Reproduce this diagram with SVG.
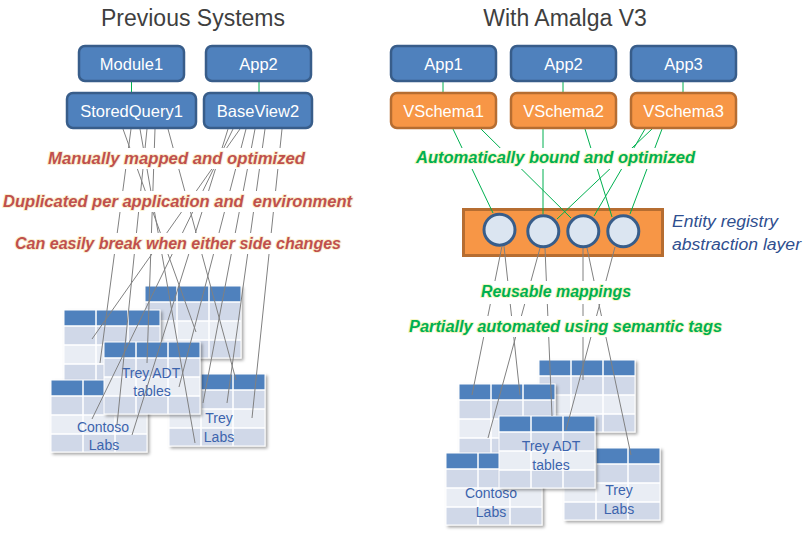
<svg xmlns="http://www.w3.org/2000/svg" xmlns:xlink="http://www.w3.org/1999/xlink" width="808" height="534" viewBox="0 0 808 534">
<style>
.title{font-family:"Liberation Sans",Arial,sans-serif;font-size:23px;fill:#3f3f3f;text-anchor:middle}
.nb rect{fill:#4f81bd;stroke:#385d8a;stroke-width:2.5}
.no rect{fill:#f79646;stroke:#b66d31;stroke-width:2.5}
.nt{font-family:"Liberation Sans",Arial,sans-serif;font-size:16.5px;fill:#fff;text-anchor:middle}
.gl{stroke:#00b050;stroke-width:1;fill:none}
.gy{stroke:#808080;stroke-width:1;fill:none}
.lbl{font-family:"Liberation Sans",Arial,sans-serif;font-size:16px;font-weight:bold;font-style:italic;white-space:pre;paint-order:stroke;stroke-width:2;stroke-linejoin:round}
.red{fill:#c0504d;stroke:#f6e3a8;stroke-opacity:.55}
.grn{fill:#00b050;stroke:#f0f0a0;stroke-opacity:.6}
.bg{fill:#fff}
.tt{font-family:"Liberation Sans",Arial,sans-serif;font-size:14px;fill:#3c64ad;text-anchor:middle}
.er{font-family:"Liberation Sans",Arial,sans-serif;font-size:16px;font-style:italic;fill:#2f4f8f}
</style>
<defs>
<filter id="sh" x="-10%" y="-10%" width="125%" height="130%">
<feDropShadow dx="2" dy="2" stdDeviation="1.5" flood-color="#000" flood-opacity="0.35"/>
</filter>
<g id="tbl">
<rect x="0" y="0" width="96" height="16" fill="#4f81bd"/>
<rect x="0" y="16" width="96" height="19" fill="#d0d8e8"/>
<rect x="0" y="35" width="96" height="19" fill="#e9edf4"/>
<rect x="0" y="54" width="96" height="18" fill="#d0d8e8"/>
<path d="M32 0V72M64 0V72M0 16H96M0 35H96M0 54H96" stroke="#fff" stroke-width="1.5" fill="none"/>
<rect x="0" y="0" width="96" height="72" fill="none" stroke="#fff" stroke-width="1"/>
</g>
</defs>
<rect width="808" height="534" fill="#fff"/>

<text class="title" x="193" y="26">Previous Systems</text>
<text class="title" x="565" y="26">With Amalga V3</text>

<!-- left tables -->
<g id="tables-left">
<g id="tbl-l2" transform="translate(145,286)"><use xlink:href="#tbl" filter="url(#sh)"/></g>
<g id="tbl-l1" transform="translate(64,310)"><use xlink:href="#tbl" filter="url(#sh)"/></g>
<g id="tbl-contoso-l" transform="translate(51,380)"><use xlink:href="#tbl" filter="url(#sh)"/><text class="tt" x="52" y="52">Contoso</text><text class="tt" x="53" y="70">Labs</text></g>
<g id="tbl-treylabs-l" transform="translate(169,374)"><use xlink:href="#tbl" filter="url(#sh)"/><text class="tt" x="50" y="49">Trey</text><text class="tt" x="50" y="68">Labs</text></g>
<g id="tbl-treyadt-l" transform="translate(104,342)"><use xlink:href="#tbl" filter="url(#sh)"/><text class="tt" x="47" y="36">Trey ADT</text><text class="tt" x="48" y="54">tables</text></g>
</g>

<!-- right tables -->
<g id="tables-right">
<g id="tbl-r1" transform="translate(539,360)"><use xlink:href="#tbl" filter="url(#sh)"/></g>
<g id="tbl-r2" transform="translate(459,384)"><use xlink:href="#tbl" filter="url(#sh)"/></g>
<g id="tbl-contoso-r" transform="translate(446,453)"><use xlink:href="#tbl" filter="url(#sh)"/><text class="tt" x="45" y="45">Contoso</text><text class="tt" x="45" y="64">Labs</text></g>
<g id="tbl-treylabs-r" transform="translate(564,448)"><use xlink:href="#tbl" filter="url(#sh)"/><text class="tt" x="55" y="47">Trey</text><text class="tt" x="55" y="66">Labs</text></g>
<g id="tbl-treyadt-r" transform="translate(499,416)"><use xlink:href="#tbl" filter="url(#sh)"/><text class="tt" x="52" y="35">Trey ADT</text><text class="tt" x="52" y="54">tables</text></g>
</g>

<!-- entity registry -->
<g id="entity-registry">
<rect x="463.5" y="209.5" width="199" height="46" fill="#f79646" stroke="#b66d31" stroke-width="3"/>
<g fill="#dbe5f1" stroke="#385d8a" stroke-width="3">
<circle cx="499.5" cy="229.7" r="15.5"/>
<circle cx="543.3" cy="231.3" r="15.5"/>
<circle cx="583.3" cy="231.3" r="15.5"/>
<circle cx="623.3" cy="231.3" r="15.5"/>
</g>
<text class="er" x="672" y="227" textLength="106" lengthAdjust="spacingAndGlyphs">Entity registry</text>
<text class="er" x="672" y="250" textLength="129" lengthAdjust="spacingAndGlyphs">abstraction layer</text>
</g>

<g id="connectors">
<line class="gl" x1="131.5" y1="81" x2="131.5" y2="93"/>
<line class="gl" x1="259" y1="81" x2="259" y2="93"/>
<line class="gl" x1="443" y1="81" x2="443" y2="93"/>
<line class="gl" x1="563" y1="81" x2="563" y2="93"/>
<line class="gl" x1="683" y1="81" x2="683" y2="93"/>
<line class="gl" x1="453" y1="129" x2="493" y2="213"/>
<line class="gl" x1="481" y1="129" x2="571" y2="218"/>
<line class="gl" x1="543" y1="129" x2="543" y2="214"/>
<line class="gl" x1="585" y1="129" x2="612" y2="217"/>
<line class="gl" x1="652" y1="129" x2="557" y2="219"/>
<line class="gl" x1="645" y1="129" x2="594" y2="216"/>
<line class="gl" x1="662" y1="129" x2="630" y2="214"/>
<line class="gy" x1="502" y1="246" x2="472" y2="395"/>
<line class="gy" x1="504" y1="246" x2="520" y2="395"/>
<line class="gy" x1="540" y1="248" x2="488" y2="438"/>
<line class="gy" x1="545" y1="248" x2="552" y2="416"/>
<line class="gy" x1="583" y1="248" x2="583" y2="380"/>
<line class="gy" x1="587" y1="248" x2="631" y2="455"/>
<line class="gy" x1="615" y1="247" x2="566" y2="430"/>
<line class="gy" x1="123" y1="129" x2="196" y2="332"/>
<line class="gy" x1="131" y1="129" x2="100" y2="363"/>
<line class="gy" x1="140" y1="129" x2="195" y2="443"/>
<line class="gy" x1="147" y1="129" x2="117" y2="425"/>
<line class="gy" x1="155" y1="129" x2="147" y2="363"/>
<line class="gy" x1="168" y1="129" x2="236" y2="380"/>
<line class="gy" x1="228" y1="129" x2="132" y2="435"/>
<line class="gy" x1="233" y1="129" x2="92" y2="419"/>
<line class="gy" x1="240" y1="129" x2="92" y2="339"/>
<line class="gy" x1="246" y1="129" x2="179" y2="387"/>
<line class="gy" x1="255" y1="129" x2="203" y2="403"/>
<line class="gy" x1="265" y1="129" x2="227" y2="403"/>
<line class="gy" x1="282" y1="129" x2="252" y2="418"/>
</g>

<!-- labels -->
<g id="labels">
<rect class="bg" x="40" y="148" width="272" height="21"/>
<rect class="bg" x="0" y="191" width="358" height="21"/>
<rect class="bg" x="10" y="233" width="336" height="21"/>
<rect class="bg" x="410" y="148" width="290" height="21"/>
<rect class="bg" x="475" y="281" width="162" height="23"/>
<rect class="bg" x="404" y="316" width="322" height="21"/>
<text class="lbl red" x="48" y="164" textLength="257" lengthAdjust="spacingAndGlyphs">Manually mapped and optimized</text>
<text class="lbl red" x="3" y="207" textLength="349" lengthAdjust="spacingAndGlyphs">Duplicated per application and  environment</text>
<text class="lbl red" x="15" y="249" textLength="326" lengthAdjust="spacingAndGlyphs">Can easily break when either side changes</text>
<text class="lbl grn" x="416" y="163" textLength="279" lengthAdjust="spacingAndGlyphs">Automatically bound and optimized</text>
<text class="lbl grn" x="481" y="297" textLength="150" lengthAdjust="spacingAndGlyphs">Reusable mappings</text>
<text class="lbl grn" x="409" y="332" textLength="313" lengthAdjust="spacingAndGlyphs">Partially automated using semantic tags</text>
</g>

<!-- nodes -->
<g id="module1" class="nb"><rect x="79" y="46" width="105" height="35" rx="6"/><text class="nt" x="131.5" y="69.5">Module1</text></g>
<g id="app2-left" class="nb"><rect x="206" y="46" width="105" height="35" rx="6"/><text class="nt" x="258.5" y="69.5">App2</text></g>
<g id="storedquery1" class="nb"><rect x="67" y="93" width="129" height="35" rx="6"/><text class="nt" x="131.5" y="116.5">StoredQuery1</text></g>
<g id="baseview2" class="nb"><rect x="204" y="93" width="108" height="35" rx="6"/><text class="nt" x="258" y="116.5">BaseView2</text></g>
<g id="app1" class="nb"><rect x="391" y="46" width="105" height="35" rx="6"/><text class="nt" x="443.5" y="69.5">App1</text></g>
<g id="app2" class="nb"><rect x="511" y="46" width="105" height="35" rx="6"/><text class="nt" x="563.5" y="69.5">App2</text></g>
<g id="app3" class="nb"><rect x="631" y="46" width="105" height="35" rx="6"/><text class="nt" x="683.5" y="69.5">App3</text></g>
<g id="vschema1" class="no"><rect x="391" y="93" width="105" height="35" rx="6"/><text class="nt" x="443.5" y="116.5">VSchema1</text></g>
<g id="vschema2" class="no"><rect x="511" y="93" width="105" height="35" rx="6"/><text class="nt" x="563.5" y="116.5">VSchema2</text></g>
<g id="vschema3" class="no"><rect x="631" y="93" width="105" height="35" rx="6"/><text class="nt" x="683.5" y="116.5">VSchema3</text></g>
</svg>
